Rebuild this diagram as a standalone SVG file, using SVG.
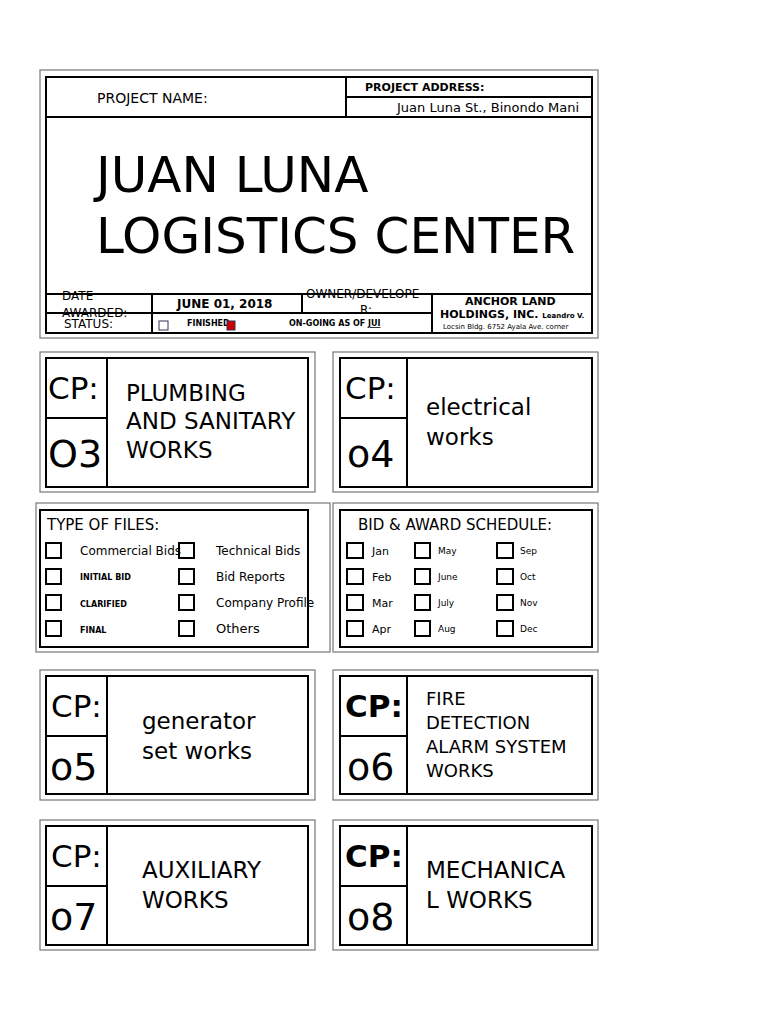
<svg xmlns="http://www.w3.org/2000/svg" width="768" height="1024" viewBox="0 0 768 1024">
<style>
text{font-family:"DejaVu Sans",sans-serif;fill:#000}
.o{fill:#fff;stroke:#777;stroke-width:1.2}
.i{fill:none;stroke:#000;stroke-width:2}
.l{stroke:#000;stroke-width:2}
.cb{fill:none;stroke:#000;stroke-width:2}
.cp{font-size:31px}
.num{font-size:38px}
.lab{font-size:23px}
.s{font-size:12px}
.t{font-size:8px;font-weight:bold}
</style>
<rect width="768" height="1024" fill="#fff"/>
<g id="header">
<rect class="o" x="40" y="70" width="558" height="268"/>
<rect class="i" x="46" y="77" width="546" height="256"/>
<line class="l" x1="46" y1="117" x2="592" y2="117"/>
<line class="l" x1="346" y1="77" x2="346" y2="117"/>
<line class="l" x1="346" y1="97" x2="592" y2="97"/>
<line class="l" x1="46" y1="294" x2="592" y2="294"/>
<line class="l" x1="46" y1="313" x2="432" y2="313"/>
<line class="l" x1="152" y1="294" x2="152" y2="333"/>
<line class="l" x1="302" y1="294" x2="302" y2="313"/>
<line class="l" x1="432" y1="294" x2="432" y2="333"/>
<text x="97" y="103" font-size="14">PROJECT NAME:</text>
<text x="365" y="91" font-size="11" font-weight="bold">PROJECT ADDRESS:</text>
<text x="397" y="112" font-size="13">Juan Luna St., Binondo Mani</text>
<text x="96" y="192" font-size="50">JUAN LUNA</text>
<text x="96" y="253" font-size="50">LOGISTICS CENTER</text>
<text x="62" y="300" font-size="12">DATE</text>
<text x="62" y="317" font-size="12">AWARDED:</text>
<text x="64" y="328" font-size="12">STATUS:</text>
<text x="177" y="308" font-size="12" font-weight="bold">JUNE 01, 2018</text>
<text x="306" y="298" font-size="12">OWNER/DEVELOPE</text>
<text x="360" y="314" font-size="12">R:</text>
<text x="465" y="305" font-size="11" font-weight="bold">ANCHOR LAND</text>
<text x="440" y="318" font-size="11" font-weight="bold">HOLDINGS, INC. <tspan font-size="7">Leandro V.</tspan></text>
<text x="443" y="329" font-size="7">Locsin Bldg. 6752 Ayala Ave. corner</text>
<rect x="159" y="321" width="9" height="9" fill="#fff" stroke="#335" stroke-width="1"/>
<text x="187" y="326" class="t">FINISHED</text>
<rect x="227" y="321" width="8" height="9" fill="#c00" stroke="#335" stroke-width="1"/>
<text x="289" y="326" class="t">ON-GOING AS OF  <tspan text-decoration="underline">JUI</tspan></text>
</g>
<g id="cp03">
<rect class="o" x="40" y="352" width="275" height="140"/>
<rect class="i" x="46" y="358" width="262" height="129"/>
<line class="l" x1="107" y1="358" x2="107" y2="487"/>
<line class="l" x1="46" y1="418" x2="107" y2="418"/>
<text class="cp" x="48" y="399">CP:</text>
<text class="num" x="48" y="467">O3</text>
<text class="lab" x="126" y="401">PLUMBING</text>
<text class="lab" x="126" y="429">AND SANITARY</text>
<text class="lab" x="126" y="458">WORKS</text>
</g>
<g id="cp04">
<rect class="o" x="333" y="352" width="265" height="140"/>
<rect class="i" x="340" y="358" width="252" height="129"/>
<line class="l" x1="407" y1="358" x2="407" y2="487"/>
<line class="l" x1="340" y1="418" x2="407" y2="418"/>
<text class="cp" x="345" y="399">CP:</text>
<text class="num" x="347" y="467">o4</text>
<text class="lab" x="426" y="415">electrical</text>
<text class="lab" x="426" y="445">works</text>
</g>
<g id="files">
<rect class="o" x="36" y="503" width="294" height="149"/>
<rect class="i" x="40" y="510" width="268" height="137"/>
<text x="47" y="530" font-size="15">TYPE OF FILES:</text>
<rect class="cb" x="46" y="543" width="15" height="15"/><text class="s" x="80" y="555">Commercial Bids</text>
<rect class="cb" x="46" y="569" width="15" height="15"/><text x="80" y="580" font-size="8" font-weight="bold">INITIAL BID</text>
<rect class="cb" x="46" y="595" width="15" height="15"/><text x="80" y="607" font-size="8" font-weight="bold">CLARIFIED</text>
<rect class="cb" x="46" y="621" width="15" height="15"/><text x="80" y="633" font-size="8" font-weight="bold">FINAL</text>
<rect class="cb" x="179" y="543" width="15" height="15"/><text class="s" x="216" y="555">Technical Bids</text>
<rect class="cb" x="179" y="569" width="15" height="15"/><text class="s" x="216" y="581">Bid Reports</text>
<rect class="cb" x="179" y="595" width="15" height="15"/><text class="s" x="216" y="607">Company Profile</text>
<rect class="cb" x="179" y="621" width="15" height="15"/><text x="216" y="633" font-size="13">Others</text>
</g>
<g id="schedule">
<rect class="o" x="333" y="503" width="265" height="149"/>
<rect class="i" x="340" y="510" width="252" height="137"/>
<text x="358" y="530" font-size="15">BID &amp; AWARD SCHEDULE:</text>
<rect class="cb" x="347" y="543" width="16" height="15"/><text x="372" y="555" font-size="11">Jan</text>
<rect class="cb" x="347" y="569" width="16" height="15"/><text x="372" y="581" font-size="11">Feb</text>
<rect class="cb" x="347" y="595" width="16" height="15"/><text x="372" y="607" font-size="11">Mar</text>
<rect class="cb" x="347" y="621" width="16" height="15"/><text x="372" y="633" font-size="11">Apr</text>
<rect class="cb" x="415" y="543" width="15" height="15"/><text x="438" y="554" font-size="9">May</text>
<rect class="cb" x="415" y="569" width="15" height="15"/><text x="438" y="580" font-size="9">June</text>
<rect class="cb" x="415" y="595" width="15" height="15"/><text x="438" y="606" font-size="9">July</text>
<rect class="cb" x="415" y="621" width="15" height="15"/><text x="438" y="632" font-size="9">Aug</text>
<rect class="cb" x="497" y="543" width="16" height="15"/><text x="520" y="554" font-size="9">Sep</text>
<rect class="cb" x="497" y="569" width="16" height="15"/><text x="520" y="580" font-size="9">Oct</text>
<rect class="cb" x="497" y="595" width="16" height="15"/><text x="520" y="606" font-size="9">Nov</text>
<rect class="cb" x="497" y="621" width="16" height="15"/><text x="520" y="632" font-size="9">Dec</text>
</g>
<g id="cp05">
<rect class="o" x="40" y="670" width="275" height="130"/>
<rect class="i" x="46" y="676" width="262" height="118"/>
<line class="l" x1="107" y1="676" x2="107" y2="794"/>
<line class="l" x1="46" y1="736" x2="107" y2="736"/>
<text class="cp" x="51" y="717">CP:</text>
<text class="num" x="50" y="780">o5</text>
<text class="lab" x="142" y="729">generator</text>
<text class="lab" x="142" y="759">set works</text>
</g>
<g id="cp06">
<rect class="o" x="333" y="670" width="265" height="130"/>
<rect class="i" x="340" y="676" width="252" height="118"/>
<line class="l" x1="407" y1="676" x2="407" y2="794"/>
<line class="l" x1="340" y1="736" x2="407" y2="736"/>
<text class="cp" x="345" y="717" font-weight="bold">CP:</text>
<text class="num" x="347" y="780">o6</text>
<text x="426" y="705" font-size="18">FIRE</text>
<text x="426" y="729" font-size="18">DETECTION</text>
<text x="426" y="753" font-size="18">ALARM SYSTEM</text>
<text x="426" y="777" font-size="18">WORKS</text>
</g>
<g id="cp07">
<rect class="o" x="40" y="820" width="275" height="130"/>
<rect class="i" x="46" y="826" width="262" height="119"/>
<line class="l" x1="107" y1="826" x2="107" y2="945"/>
<line class="l" x1="46" y1="886" x2="107" y2="886"/>
<text class="cp" x="51" y="867">CP:</text>
<text class="num" x="50" y="930">o7</text>
<text class="lab" x="142" y="878">AUXILIARY</text>
<text class="lab" x="142" y="908">WORKS</text>
</g>
<g id="cp08">
<rect class="o" x="333" y="820" width="265" height="130"/>
<rect class="i" x="340" y="826" width="252" height="119"/>
<line class="l" x1="407" y1="826" x2="407" y2="945"/>
<line class="l" x1="340" y1="886" x2="407" y2="886"/>
<text class="cp" x="345" y="867" font-weight="bold">CP:</text>
<text class="num" x="347" y="930">o8</text>
<text class="lab" x="426" y="878">MECHANICA</text>
<text class="lab" x="426" y="908">L WORKS</text>
</g>
</svg>
